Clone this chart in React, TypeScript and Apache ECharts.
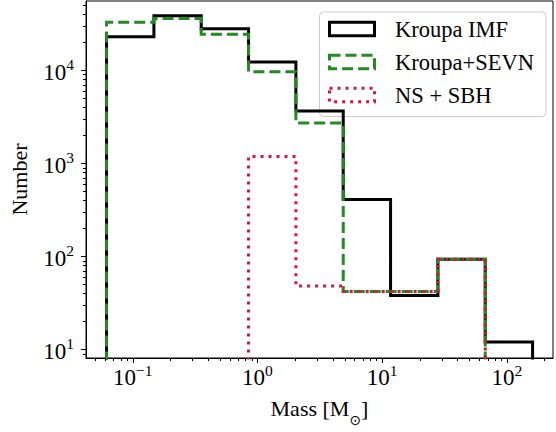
import React, { useEffect, useRef } from "react";
import * as echarts from "echarts";

// ---- data ----
const binEdges = [0.0617, 0.1479, 0.3542, 0.8489, 2.034, 4.874, 11.68, 27.99, 67.07, 160.7];
const seriesNames = ["Kroupa IMF", "Kroupa+SEVN", "NS + SBH"];
const kroupaIMF = [22800, 38500, 27900, 12250, 3650, 408, 38, 93, 12];
const kroupaSEVN = [32700, 35800, 24300, 9620, 2710, 42, 42, 93, 0];
const nsSBH = [0, 0, 0, 1180, 48, 42, 42, 93, 0];
const xMajorTicks = [0.1, 1, 10, 100];
const yMajorTicks = [10, 100, 1000, 10000];

// ---- axis extent ----
const X_MIN = 0.04222;
const X_MAX = 234.3;
const Y_MIN = 8.1;
const Y_MAX = 55300;

const FONT = "'Liberation Serif', 'DejaVu Serif', serif";
const COLORS = ["#000000", "#228B22", "#DC143C"];
const DASHES: (number[] | "solid")[] = ["solid", [11, 5], [3, 5]];

const FLOOR = 1; // below the axis minimum: clipped like matplotlib's zero bins

function stepPoints(edges: number[], counts: number[]): number[][] {
  const pts: number[][] = [[edges[0], FLOOR]];
  for (let i = 0; i < counts.length; i++) {
    const c = counts[i] > 0 ? counts[i] : FLOOR;
    pts.push([edges[i], c]);
    pts.push([edges[i + 1], c]);
  }
  pts.push([edges[edges.length - 1], FLOOR]);
  return pts;
}

function minorTicks(lo: number, hi: number): number[] {
  const out: number[] = [];
  for (let k = Math.floor(Math.log10(lo)); k <= Math.ceil(Math.log10(hi)); k++) {
    for (let m = 2; m <= 9; m++) {
      const v = m * Math.pow(10, k);
      if (v >= lo && v <= hi) out.push(v);
    }
  }
  return out;
}

function powLabel(v: number): string {
  const l = Math.log10(v);
  const e = Math.round(l);
  if (Math.abs(l - e) > 1e-6) return "";
  const exp = e < 0 ? "\u2212" + -e : String(e);
  return `{b|10}{s|${exp}}`;
}

const labelRich = {
  b: { fontFamily: FONT, fontSize: 23, color: "#000", lineHeight: 27, verticalAlign: "bottom" },
  s: { fontFamily: FONT, fontSize: 15.5, color: "#000", lineHeight: 16, verticalAlign: "top" },
};

export default function App() {
  const ref = useRef<HTMLDivElement>(null);
  useEffect(() => {
    if (!ref.current) return;
    const chart = echarts.init(ref.current, null, { renderer: "svg" });

    const seriesData = [kroupaIMF, kroupaSEVN, nsSBH];
    const lineSeries = seriesData.map((counts, i) => ({
      name: seriesNames[i],
      type: "line",
      data: stepPoints(binEdges, counts),
      symbol: "none",
      showSymbol: false,
      clip: true,
      z: 2 + i,
      lineStyle: { color: COLORS[i], width: 3, type: DASHES[i], cap: "butt", join: "miter" },
      emphasis: { disabled: true },
    }));

    const xTickData = [
      ...xMajorTicks.map((v) => [v, 5]),
      ...minorTicks(X_MIN, X_MAX).map((v) => [v, 3]),
    ];
    const yTickData = [
      ...yMajorTicks.map((v) => [X_MIN, v, 5]),
      ...minorTicks(Y_MIN, Y_MAX).map((v) => [X_MIN, v, 3]),
    ];

    const xTicks = {
      type: "custom",
      silent: true,
      clip: false,
      z: 10,
      data: xTickData.map((d) => [d[0], Y_MIN, d[1]]),
      encode: { x: 0, y: 1 },
      renderItem: (params: any, api: any) => {
        const cs = params.coordSys;
        const px = Math.round(api.coord([api.value(0), Y_MIN])[0]) + 0.5;
        const bottom = cs.y + cs.height;
        return {
          type: "line",
          shape: { x1: px, y1: bottom, x2: px, y2: bottom + api.value(2) },
          style: { stroke: "#000", lineWidth: 1 },
        };
      },
    };
    const yTicks = {
      type: "custom",
      silent: true,
      clip: false,
      z: 10,
      data: yTickData,
      encode: { x: 0, y: 1 },
      renderItem: (params: any, api: any) => {
        const cs = params.coordSys;
        const py = Math.round(api.coord([X_MIN, api.value(1)])[1]) + 0.5;
        const left = cs.x;
        return {
          type: "line",
          shape: { x1: left - api.value(2), y1: py, x2: left, y2: py },
          style: { stroke: "#000", lineWidth: 1 },
        };
      },
    };

    const legendElems: any[] = [
      {
        type: "rect",
        shape: { x: 319.5, y: 12, width: 226.5, height: 104.5, r: 4 },
        style: { fill: "rgba(255,255,255,0.8)", stroke: "#cccccc", lineWidth: 1 },
      },
    ];
    seriesNames.forEach((name, i) => {
      const cy = 29 + 33 * i;
      legendElems.push({
        type: "rect",
        shape: { x: 329.5, y: cy - 6.8, width: 45, height: 13.6 },
        style: {
          fill: "none",
          stroke: COLORS[i],
          lineWidth: 3,
          lineDash: DASHES[i] === "solid" ? null : DASHES[i],
        },
      });
      legendElems.push({
        type: "text",
        x: 395,
        y: cy,
        style: {
          text: name,
          fontFamily: FONT,
          fontSize: 22.5,
          fill: "#000",
          align: "left",
          verticalAlign: "middle",
        },
      });
    });

    chart.setOption({
      animation: false,
      backgroundColor: "#ffffff",
      grid: {
        left: 81,
        top: 1,
        width: 477,
        height: 365,
        show: true,
        borderColor: "#000",
        borderWidth: 1,
        backgroundColor: "transparent",
      },
      xAxis: {
        type: "log",
        logBase: 10,
        min: X_MIN,
        max: X_MAX,
        name: "{n|Mass [M}{sub|\u2299}{n|]}",
        nameLocation: "middle",
        nameGap: 39,
        nameTextStyle: {
          rich: {
            n: { fontFamily: FONT, fontSize: 22, color: "#000", lineHeight: 30, verticalAlign: "top" },
            sub: { fontFamily: "'DejaVu Sans', sans-serif", fontSize: 14, color: "#000", lineHeight: 14, verticalAlign: "bottom" },
          },
        },
        axisLine: { show: true, onZero: false, lineStyle: { color: "#000", width: 1 } },
        axisTick: { show: false },
        splitLine: { show: false },
        minorTick: { show: false },
        axisLabel: { formatter: powLabel, margin: 4, rich: labelRich, showMinLabel: true, showMaxLabel: true },
      },
      yAxis: {
        type: "log",
        logBase: 10,
        min: Y_MIN,
        max: Y_MAX,
        name: "Number",
        nameLocation: "middle",
        nameGap: 56,
        nameTextStyle: { fontFamily: FONT, fontSize: 22, color: "#000" },
        axisLine: { show: true, onZero: false, lineStyle: { color: "#000", width: 1 } },
        axisTick: { show: false },
        splitLine: { show: false },
        minorTick: { show: false },
        axisLabel: { formatter: powLabel, margin: 12, rich: labelRich },
      },
      series: [...lineSeries, xTicks, yTicks],
      graphic: [{ type: "group", z: 100, children: legendElems }],
    });

    return () => chart.dispose();
  }, []);

  return (
    <div
      ref={ref}
      style={{ position: "fixed", left: 0, top: 0, width: 556, height: 432 }}
    />
  );
}
